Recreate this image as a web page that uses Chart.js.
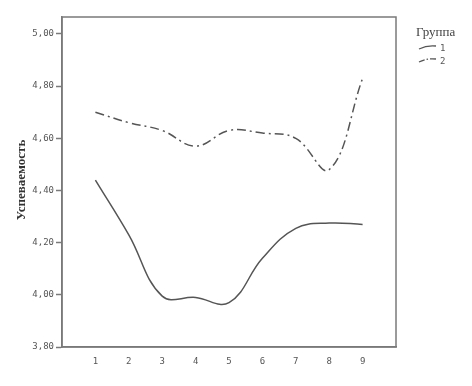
<!DOCTYPE html>
<html><head><meta charset="utf-8">
<script src="https://cdn.jsdelivr.net/npm/chart.js@4/dist/chart.umd.min.js"></script>
<style>html,body{margin:0;padding:0;background:#fff}#wrap{width:472px;height:386px}</style>
</head><body><div id="wrap"><canvas id="c" width="472" height="386"></canvas></div>
<script>
const categories = [1, 2, 3, 4, 5, 6, 7, 8, 9];
const group1 = [4.44, 4.23, 3.995, 3.99, 3.97, 4.14, 4.255, 4.275, 4.27];
const group2 = [4.70, 4.66, 4.63, 4.57, 4.63, 4.62, 4.60, 4.48, 4.83];
const yTicks = [3.8, 4.0, 4.2, 4.4, 4.6, 4.8, 5.0];
const seriesNames = ['1', '2'];
const legendTitle = 'Группа';
const yTitle = 'Успеваемость';

const lineColor = '#555';
const frameColor = '#7a7a7a';

const framePlugin = {
  id: 'frame',
  afterDraw(chart) {
    const {ctx, chartArea: a} = chart;
    ctx.save();
    ctx.strokeStyle = frameColor;
    ctx.lineWidth = 1.5;
    ctx.strokeRect(a.left, a.top, a.right - a.left, a.bottom - a.top);
    // y title
    ctx.save();
    ctx.translate(22, 180);
    ctx.rotate(-Math.PI / 2);
    ctx.fillStyle = '#333';
    ctx.font = 'bold 13px "Liberation Serif", "DejaVu Serif", serif';
    ctx.textAlign = 'center';
    ctx.textBaseline = 'middle';
    ctx.fillText(yTitle, 0, 0);
    ctx.restore();
    // legend
    ctx.fillStyle = '#444';
    ctx.font = '13px "Liberation Serif", "DejaVu Serif", serif';
    ctx.textBaseline = 'middle';
    ctx.textAlign = 'left';
    ctx.fillText(legendTitle, 416, 33);
    chart.data.datasets.forEach((ds, i) => {
      const y = 47 + i * 13;
      ctx.strokeStyle = lineColor;
      ctx.lineWidth = 1.3;
      ctx.setLineDash(ds.borderDash ? [6, 2, 1.5, 2] : []);
      ctx.beginPath();
      ctx.moveTo(419, y + 2);
      ctx.quadraticCurveTo(427, y - 2, 436, y - 1);
      ctx.stroke();
      ctx.setLineDash([]);
      ctx.fillStyle = '#555';
      ctx.font = '9px "DejaVu Sans Mono", monospace';
      ctx.fillText(ds.label, 440, y + 2);
    });
    ctx.restore();
  }
};

new Chart(document.getElementById('c'), {
  type: 'line',
  data: {
    datasets: [
      { label: seriesNames[0], data: categories.map((x, i) => ({x, y: group1[i]})),
        borderColor: lineColor, borderWidth: 1.5, pointRadius: 0, tension: 0.4, fill: false },
      { label: seriesNames[1], data: categories.map((x, i) => ({x, y: group2[i]})),
        borderColor: lineColor, borderWidth: 1.5, pointRadius: 0, tension: 0.4, fill: false,
        borderDash: [9, 4, 2, 4] }
    ]
  },
  options: {
    responsive: false,
    animation: false,
    layout: { padding: { top: 17, right: 76, left: 0, bottom: 0 } },
    plugins: { legend: { display: false }, tooltip: { enabled: false } },
    scales: {
      x: {
        type: 'linear', min: 0, max: 10,
        afterBuildTicks(s) { s.ticks = categories.map(v => ({value: v})); },
        afterFit(s) { s.height = 39; },
        grid: { display: false, drawOnChartArea: false, drawTicks: true, tickLength: 6, tickColor: frameColor, tickWidth: 1.5 },
        border: { display: true, color: frameColor, width: 1.5 },
        ticks: { color: '#555', font: { family: '"DejaVu Sans Mono", monospace', size: 9 }, padding: 3, maxRotation: 0 }
      },
      y: {
        type: 'linear', min: 3.8, max: 5.065,
        afterBuildTicks(s) { s.ticks = yTicks.map(v => ({value: v})); },
        afterFit(s) { s.width = 62; },
        grid: { display: true, drawOnChartArea: false, drawTicks: true, tickLength: 6, tickColor: frameColor, tickWidth: 1.5 },
        border: { display: true, color: frameColor, width: 1.5 },
        ticks: { color: '#555', font: { family: '"DejaVu Sans Mono", monospace', size: 9 }, padding: 2,
          callback: v => v.toFixed(2).replace('.', ',') }
      }
    }
  },
  plugins: [framePlugin]
});
</script></body></html>
